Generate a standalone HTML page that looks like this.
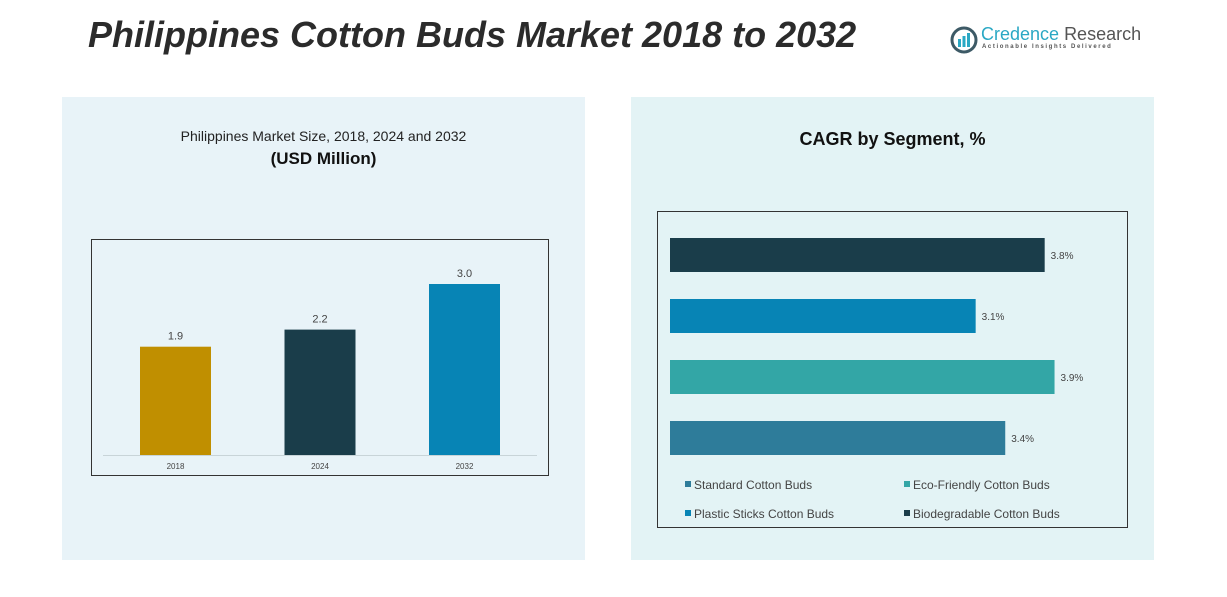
<!DOCTYPE html>
<html><head><meta charset="utf-8"><style>
body{margin:0;width:1227px;height:597px;background:#fff;font-family:"Liberation Sans",sans-serif;position:relative;overflow:hidden}
.abs{position:absolute}
</style></head><body>
<div class="abs" style="left:88px;top:14px;font-size:36px;font-weight:bold;font-style:italic;color:#2b2b2b;white-space:nowrap">Philippines Cotton Buds Market 2018 to 2032</div>
<div class="abs" style="left:950px;top:26px;width:180px;height:30px">
 <svg width="28" height="28" class="abs" style="left:0;top:0"><circle cx="14" cy="14" r="12" fill="none" stroke="#3d5a66" stroke-width="3"/><rect x="8" y="13" width="3" height="8" fill="#2aa8c4"/><rect x="12.5" y="10" width="3" height="11" fill="#2aa8c4"/><rect x="17" y="7" width="3" height="14" fill="#2aa8c4"/></svg>
 <div class="abs" style="left:31px;top:-2px;font-size:18px;color:#2aa8c4;white-space:nowrap">Credence <span style="color:#555">Research</span></div>
 <div class="abs" style="left:32px;top:18px;font-size:6px;letter-spacing:1.6px;color:#555;white-space:nowrap;font-weight:bold">Actionable Insights Delivered</div>
</div>
<div class="abs" style="left:62px;top:97px;width:523px;height:463px;background:#e8f3f8"></div>
<div class="abs" style="left:631px;top:97px;width:523px;height:463px;background:#e3f3f5"></div>
<div class="abs" style="left:62px;top:128px;width:523px;text-align:center;font-size:14px;color:#222">Philippines Market Size, 2018, 2024 and 2032</div>
<div class="abs" style="left:62px;top:149px;width:523px;text-align:center;font-size:17px;font-weight:bold;color:#111">(USD Million)</div>
<div class="abs" style="left:631px;top:129px;width:523px;text-align:center;font-size:18px;font-weight:bold;color:#111">CAGR by Segment, %</div>
<svg class="abs" style="left:0;top:0" width="1227" height="597" id="svg">
 <rect x="91.5" y="239.5" width="457" height="236" fill="none" stroke="#333"/>
 <line x1="103" y1="455.5" x2="537" y2="455.5" stroke="#c8d4d8"/>
 <rect x="657.5" y="211.5" width="470" height="316" fill="none" stroke="#333"/>
 <g id="left"></g><g id="right"></g>
 <g font-size="12" fill="#444">
  <rect x="685" y="481" width="6" height="6" fill="#2e7c9a"/><text x="694" y="489">Standard Cotton Buds</text>
  <rect x="904" y="481" width="6" height="6" fill="#33a6a6"/><text x="913" y="489">Eco-Friendly Cotton Buds</text>
  <rect x="685" y="510" width="6" height="6" fill="#0784b5"/><text x="694" y="518">Plastic Sticks Cotton Buds</text>
  <rect x="904" y="510" width="6" height="6" fill="#1a3d4a"/><text x="913" y="518">Biodegradable Cotton Buds</text>
 </g>
</svg>
<script>
const years=["2018","2024","2032"];
const sizes=[1.9,2.2,3.0];
const yearColors=["#c08f00","#1a3d4a","#0784b5"];
const segments=["Biodegradable Cotton Buds","Plastic Sticks Cotton Buds","Eco-Friendly Cotton Buds","Standard Cotton Buds"];
const cagr=[3.8,3.1,3.9,3.4];
const segColors=["#1a3d4a","#0784b5","#33a6a6","#2e7c9a"];
const NS="http://www.w3.org/2000/svg";
function mk(t,a,p){const e=document.createElementNS(NS,t);for(const k in a)e.setAttribute(k,a[k]);p.appendChild(e);return e;}
const L=document.getElementById('left'),R=document.getElementById('right');
const yS=v=>455-v*57, xS=i=>140+i*144.5;
years.forEach((y,i)=>{
 const r=mk('rect',{x:xS(i),y:yS(sizes[i]),width:71,height:455-yS(sizes[i]),fill:yearColors[i]},L);
 
 
 const t=mk('text',{x:xS(i)+35.5,y:yS(sizes[i])-7,'text-anchor':'middle','font-size':11,fill:'#444'},L);t.textContent=sizes[i].toFixed(1);
 
 
 const x=mk('text',{x:xS(i)+35.5,y:469,'text-anchor':'middle','font-size':8,fill:'#444'},L);x.textContent=y;
 
 
});
const xR=v=>670+v*98.6, yR=i=>238+i*61;
segments.forEach((s,i)=>{
 const r=mk('rect',{x:670,y:yR(i),width:xR(cagr[i])-670,height:34,fill:segColors[i]},R);
 
 
 const t=mk('text',{x:xR(cagr[i])+6,y:yR(i)+21,'font-size':10,fill:'#444'},R);t.textContent=cagr[i].toFixed(1)+'%';
 
 
});
</script>
</body></html>
